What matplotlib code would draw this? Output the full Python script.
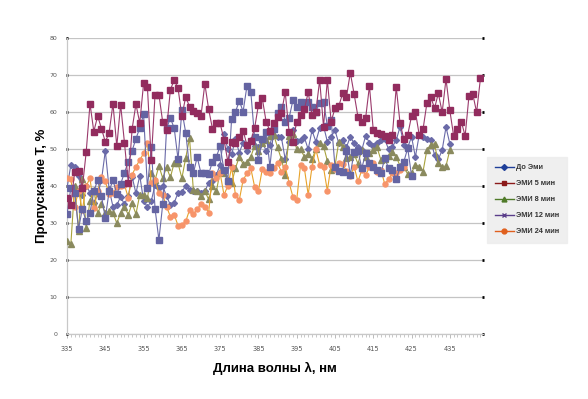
import numpy as np
import matplotlib
matplotlib.use("Agg")
import matplotlib.pyplot as plt
from matplotlib.lines import Line2D
from matplotlib.ticker import MultipleLocator

# wavelength start, one reading per nm
START_NM = 335

# values (transmission, %)
emi_5 = [36.7, 34.8, 43.9, 44.1, 39.5, 49.1, 62.2, 54.7, 58.9, 55.5,
         51.9, 54.4, 62.2, 50.7, 62.0, 51.7, 40.9, 55.4, 62.1, 57.0,
         67.7, 66.7, 47.0, 64.7, 64.7, 57.2, 55.2, 66.0, 68.6, 66.4,
         58.8, 64.1, 61.4, 60.3, 59.6, 59.0, 67.6, 60.7, 55.4, 56.9,
         56.9, 52.5, 46.6, 52.0, 51.7, 53.3, 54.9, 51.1, 52.2, 55.6,
         61.9, 63.7, 57.4, 54.9, 56.9, 58.5, 59.8, 65.3, 54.7, 52.0,
         57.3, 59.3, 60.7, 65.3, 59.2, 60.1, 68.6, 56.0, 68.6, 57.4,
         61.0, 61.6, 65.0, 64.0, 70.6, 64.8, 58.7, 57.2, 58.3, 67.0,
         55.1, 54.4, 54.1, 53.5, 52.4, 53.8, 66.7, 56.9, 52.6, 53.8,
         58.9, 60.1, 53.8, 55.3, 62.3, 64.1, 61.0, 65.0, 59.9, 68.9,
         60.4, 53.5, 55.3, 57.4, 53.5, 64.3, 64.8, 59.9, 69.1]

emi_12 = [32.3, 39.5, 38.2, 28.4, 33.8, 30.4, 32.8, 38.5, 41.6, 37.3,
          31.3, 38.6, 41.6, 37.8, 40.5, 43.6, 46.5, 49.5, 52.8, 55.6,
          59.4, 39.5, 50.4, 33.8, 25.4, 35.1, 55.6, 58.3, 55.6, 47.2,
          60.4, 54.4, 45.0, 43.4, 47.8, 43.4, 43.4, 43.2, 46.6, 47.9,
          50.7, 44.3, 41.4, 58.2, 60.0, 63.0, 60.1, 67.0, 65.5, 53.1,
          47.0, 52.6, 54.7, 45.2, 55.3, 59.6, 61.4, 57.4, 58.3, 63.1,
          61.4, 62.6, 62.4, 62.6, 61.4, 60.1, 62.5, 62.8, 56.3, 57.8,
          45.2, 44.1, 43.9, 49.5, 43.0, 49.3, 49.5, 44.8, 48.8, 46.1,
          45.0, 44.3, 43.4, 47.5, 44.8, 44.3, 41.9, 45.0, 46.6, 50.2,
          42.7]

do_emi = [39.4, 45.7, 45.0, 42.7, 37.6, 40.1, 38.2, 35.5, 37.8, 41.6,
          49.5, 39.1, 34.4, 34.8, 37.1, 35.0, 37.3, 42.5, 38.0, 42.8,
          36.0, 34.3, 35.9, 40.3, 39.4, 40.0, 37.2, 34.9, 35.5, 38.1,
          38.3, 40.1, 39.0, 38.7, 38.7, 38.0, 38.5, 40.9, 41.2, 43.0,
          45.7, 54.0, 50.0, 48.5, 52.6, 49.0, 51.7, 49.5, 52.3, 50.8,
          50.4, 52.0, 49.5, 51.1, 55.0, 53.1, 53.1, 47.2, 52.0, 55.0,
          52.2, 52.5, 53.1, 49.9, 55.0, 52.0, 55.6, 56.2, 52.0, 53.3,
          55.0, 51.5, 52.4, 50.5, 53.3, 51.5, 50.4, 49.7, 53.5, 51.7,
          50.8, 51.7, 52.4, 52.6, 49.9, 50.6, 52.4, 56.0, 51.1, 50.4,
          53.3, 47.8, 53.8, 53.1, 52.6, 52.4, 48.4, 47.2, 49.7, 55.9,
          51.4]

emi_8 = [25.2, 24.3, 40.0, 27.9, 41.8, 28.6, 36.0, 39.0, 32.6, 35.1,
         32.8, 33.1, 32.8, 29.9, 32.8, 34.4, 32.2, 35.3, 32.4, 37.6,
         37.6, 36.7, 43.4, 41.6, 45.4, 42.1, 45.0, 42.3, 46.3, 46.1,
         42.1, 47.5, 52.9, 38.9, 38.5, 37.3, 38.5, 36.4, 40.0, 38.5,
         43.9, 43.4, 41.5, 40.7, 44.8, 47.9, 45.9, 46.5, 47.9, 50.8,
         49.5, 51.5, 52.4, 53.5, 53.8, 50.4, 47.2, 43.0, 53.5, 54.0,
         49.9, 49.9, 47.9, 48.5, 47.2, 49.9, 51.5, 50.8, 46.8, 44.3,
         45.4, 52.0, 50.4, 47.5, 47.9, 48.6, 46.0, 49.7, 47.9, 49.0,
         49.7, 50.4, 47.0, 47.2, 48.1, 49.3, 47.9, 45.4, 45.0, 43.2,
         43.6, 45.7, 45.2, 43.9, 49.7, 51.1, 51.4, 46.1, 45.2, 45.4,
         49.7]

emi_24 = [42.1, 41.9, 34.4, 38.6, 33.5, 40.0, 42.1, 34.0, 38.5, 42.5,
          41.2, 37.8, 38.2, 39.6, 40.0, 40.3, 36.8, 43.0, 45.2, 47.0,
          48.8, 51.5, 40.9, 41.5, 38.0, 37.6, 34.4, 31.7, 32.2, 29.3,
          29.5, 30.4, 33.5, 32.4, 33.7, 35.1, 34.4, 32.8, 43.4, 42.1,
          43.4, 37.6, 40.0, 45.0, 37.6, 36.2, 41.6, 43.4, 44.8, 39.8,
          38.7, 44.5, 43.9, 43.6, 44.8, 46.1, 43.9, 45.2, 40.9, 37.1,
          36.2, 45.7, 44.8, 37.6, 45.2, 49.9, 45.7, 45.0, 38.7, 45.7,
          44.5, 46.3, 45.9, 44.0, 42.7, 45.2, 41.2, 44.3, 43.0, 45.0,
          46.1, 43.9, 44.4, 40.5, 41.8, 43.4, 43.6, 44.3, 45.0]

x_ticks = [335, 345, 355, 365, 375, 385, 395, 405, 415, 425, 435]
legend_labels = ["До Эми", "ЭМИ 5 мин", "ЭМИ 8 мин", "ЭМИ 12 мин", "ЭМИ 24 мин"]


def nm(values):
    return START_NM + np.arange(len(values))


fig = plt.figure(figsize=(5.88, 3.99), dpi=100)
ax = fig.add_axes([0.114, 0.163, 0.707, 0.742])

# draw order roughly like the reference
ax.plot(nm(do_emi), do_emi, color="#6a6aa8", lw=0.8, marker="D",
        ms=3.0, mfc="#6a6aa8", mec="#6a6aa8", zorder=3)
ax.plot(nm(emi_8), emi_8, color="#a8a23c", lw=0.8, marker="^",
        ms=4.0, mfc="#8a8a5e", mec="#8a8a5e", zorder=4)
ax.plot(nm(emi_24), emi_24, color="#e8a22a", lw=0.8, marker="o",
        ms=3.6, mfc="#f7946a", mec="#f7946a", zorder=5)
ax.plot(nm(emi_12), emi_12, color="#6a6aa8", lw=0.8, marker="s",
        ms=4.6, mfc="#6464a2", mec="#6464a2", zorder=6)
ax.plot(nm(emi_5), emi_5, color="#9a3a6c", lw=0.8, marker="s",
        ms=3.8, mfc="#922c5e", mec="#922c5e", zorder=7)

ax.set_xlim(START_NM, START_NM + 108.6)
ax.set_ylim(0, 80)
ax.set_xticks(x_ticks)
ax.xaxis.set_minor_locator(MultipleLocator(1))
ax.yaxis.set_major_locator(MultipleLocator(10))
ax.grid(axis="y", color="#c4c4c4", lw=0.9, zorder=0)
ax.set_axisbelow(True)

for side in ["top", "right"]:
    ax.spines[side].set_visible(False)
for side in ["left", "bottom"]:
    ax.spines[side].set_color("#c8c8c8")
    ax.spines[side].set_linewidth(0.9)

ax.tick_params(axis="y", which="major", length=2, width=2, color="black",
               labelsize=4.5, labelcolor="#555555", pad=6, right=True, direction="inout")
ax.tick_params(axis="x", which="major", length=3, width=0.6, color="#b0b0b0",
               labelsize=4.8, labelcolor="#555555", pad=6)
ax.tick_params(axis="x", which="minor", length=2, width=0.5, color="#b0b0b0")

ax.set_xlabel("Длина волны λ, нм", fontsize=9.5, fontweight="bold",
              family="Liberation Sans", labelpad=7)
ax.set_ylabel("Пропускание Т, %", fontsize=9.5, fontweight="bold",
              family="Liberation Sans", labelpad=1)

# legend uses the original (darker) series colours
handles = [
    Line2D([], [], color="#1f3f99", marker="D", ms=3, lw=1),
    Line2D([], [], color="#8b1a1a", marker="s", ms=3.5, lw=1),
    Line2D([], [], color="#4f7a28", marker="^", ms=3.5, lw=1),
    Line2D([], [], color="#5a3d8a", marker="x", ms=3.5, lw=1),
    Line2D([], [], color="#e0601e", marker="o", ms=3.5, lw=1),
]
leg = fig.legend(handles, legend_labels, loc="upper left",
                 bbox_to_anchor=(0.829, 0.607), frameon=True, fancybox=False,
                 prop={"size": 5.3, "weight": "bold", "family": "Liberation Sans"},
                 handlelength=2.6, labelspacing=1.2, borderpad=1.0,
                 handletextpad=0.3, borderaxespad=0)
leg.get_frame().set_facecolor("#ececec")
leg.get_frame().set_edgecolor("#ececec")
for t in leg.get_texts():
    t.set_color("#333333")

fig.savefig("out.png", dpi=100)
